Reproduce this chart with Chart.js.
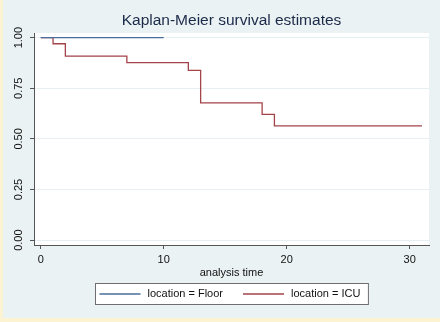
<!DOCTYPE html>
<html>
<head>
<meta charset="utf-8">
<script src="https://cdn.jsdelivr.net/npm/chart.js@4"></script>
<style>
  html, body { margin: 0; padding: 0; background: #fcf3d2; }
  #wrap { position: absolute; left: 3px; top: 0; width: 437px; height: 318px; background: #eaf2f3; }
</style>
</head>
<body>
<div id="wrap"><canvas id="kmChart" width="437" height="318"></canvas></div>
<script>
// survival estimates
const floorTimes = [0, 10];
const floorSurv = [1, 1];
const icuTimes = [0, 1, 2, 7, 12, 13, 18, 19, 31];
const icuSurv = [1, 0.970, 0.909, 0.877, 0.838, 0.678, 0.621, 0.564, 0.564];

const xTicks = [0, 10, 20, 30];
const yTicks = [0, 0.25, 0.5, 0.75, 1];
const seriesLabels = ['location = Floor', 'location = ICU'];

const FONT = 'Liberation Sans, Arial, Helvetica, sans-serif';
const toPoints = (xs, ys) => xs.map((x, i) => ({ x: x, y: ys[i] }));

/* --- white plot region --- */
const plotBg = {
    id: 'plotBg',
    beforeDraw(chart) {
        const { ctx, chartArea: a } = chart;
        ctx.save();
        ctx.fillStyle = '#ffffff';
        ctx.fillRect(a.left, a.top, a.right - a.left, a.bottom - a.top);
        ctx.restore();
    }
};

/* --- boxed legend below the axis title --- */
const boxLegend = {
    id: 'boxLegend',
    afterDraw(chart) {
        const { ctx, chartArea: a } = chart;
        const sets = chart.data.datasets;
        const lineW = 41, gap = 7, between = 20, padL = 4, padR = 8;
        ctx.save();
        ctx.font = '11px ' + FONT;
        const widths = sets.map(d => ctx.measureText(d.label).width);
        let total = padL + padR + between * (sets.length - 1);
        widths.forEach(w => total += lineW + gap + w);
        const top = 283, h = 21;
        const left = Math.round((a.left + a.right) / 2 - total / 2) + 0.5;
        ctx.fillStyle = '#ffffff';
        ctx.fillRect(left, top + 0.5, total, h);
        ctx.strokeStyle = '#6e6e6e';
        ctx.lineWidth = 1;
        ctx.strokeRect(left, top + 0.5, total, h);
        const cy = top + h / 2 + 0.5;
        let x = left + padL;
        sets.forEach((d, i) => {
            ctx.strokeStyle = d.borderColor;
            ctx.lineWidth = d.borderWidth;
            ctx.beginPath();
            ctx.moveTo(x, cy);
            ctx.lineTo(x + lineW, cy);
            ctx.stroke();
            x += lineW + gap;
            ctx.fillStyle = '#111111';
            ctx.textBaseline = 'middle';
            ctx.textAlign = 'left';
            ctx.fillText(d.label, x, cy);
            x += widths[i] + between;
        });
        ctx.restore();
    }
};

const ctx = document.getElementById('kmChart').getContext('2d');
new Chart(ctx, {
    type: 'line',
    data: {
        datasets: [
            {
                label: seriesLabels[0],
                data: toPoints(floorTimes, floorSurv),
                borderColor: '#4a6d9a',
                borderWidth: 1.3,
                stepped: 'before',
                pointRadius: 0,
                fill: false
            },
            {
                label: seriesLabels[1],
                data: toPoints(icuTimes, icuSurv),
                borderColor: '#a3434a',
                borderWidth: 1.3,
                stepped: 'before',
                pointRadius: 0,
                fill: false
            }
        ]
    },
    options: {
        responsive: false,
        animation: false,
        layout: { padding: { top: 0, left: 0, right: 11, bottom: 38 } },
        plugins: {
            legend: { display: false },
            tooltip: { enabled: false },
            title: {
                display: true,
                text: 'Kaplan-Meier survival estimates',
                fullSize: false,
                color: '#1b2a48',
                font: { family: FONT, size: 15.5, weight: 'normal' },
                padding: { top: 11, bottom: 3.4 }
            }
        },
        scales: {
            x: {
                type: 'linear',
                min: -0.55,
                max: 31.57,
                afterBuildTicks: s => { s.ticks = xTicks.map(v => ({ value: v })); },
                afterFit: s => { s.height = 35; },
                grid: { drawOnChartArea: false, tickLength: 4, tickColor: '#555555' },
                border: { color: '#555555', width: 1 },
                ticks: {
                    color: '#111111',
                    padding: 4,
                    maxRotation: 0,
                    font: { family: FONT, size: 11 },
                    callback: v => String(v)
                },
                title: {
                    display: true,
                    text: 'analysis time',
                    color: '#111111',
                    font: { family: FONT, size: 11 },
                    padding: { top: 0, bottom: 0.5 }
                }
            },
            y: {
                type: 'linear',
                min: -0.024,
                max: 1.023,
                afterBuildTicks: s => { s.ticks = yTicks.map(v => ({ value: v })); },
                afterFit: s => { s.width = 31; },
                grid: {
                    color: '#e6eff1',
                    tickColor: '#555555',
                    tickLength: 4,
                    drawTicks: true
                },
                border: { color: '#555555', width: 1 },
                ticks: {
                    color: '#111111',
                    padding: 0,
                    minRotation: 90,
                    maxRotation: 90,
                    crossAlign: 'center',
                    font: { family: FONT, size: 11 },
                    callback: v => v.toFixed(2)
                }
            }
        }
    },
    plugins: [plotBg, boxLegend]
});
</script>
</body>
</html>
